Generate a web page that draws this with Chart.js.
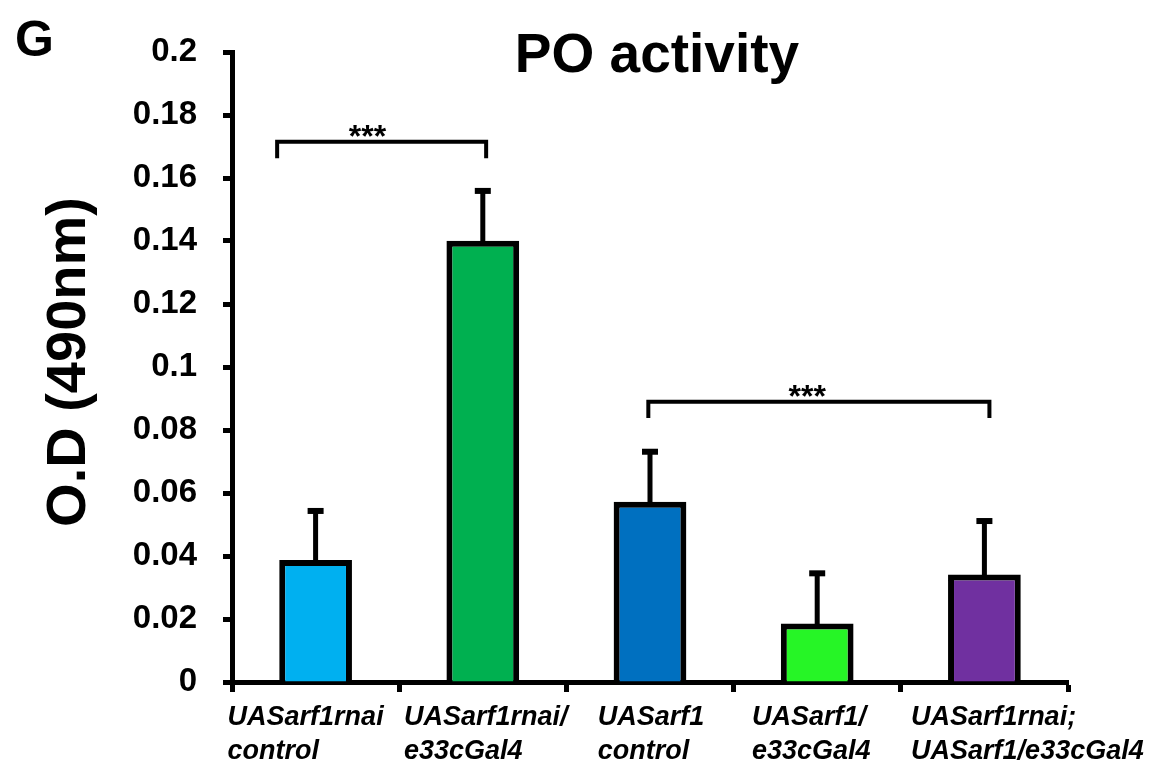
<!DOCTYPE html>
<html><head><meta charset="utf-8">
<script src="https://cdn.jsdelivr.net/npm/chart.js@4.4.1/dist/chart.umd.min.js"></script>
<style>html,body{margin:0;padding:0;background:#fff}canvas{display:block}</style>
</head><body>
<canvas id="c" width="1151" height="765"></canvas>
<script>
// ---- data ----
const categories = [
  ['UASarf1rnai', 'control'],
  ['UASarf1rnai/', 'e33cGal4'],
  ['UASarf1', 'control'],
  ['UASarf1/', 'e33cGal4'],
  ['UASarf1rnai;', 'UASarf1/e33cGal4']
];
const meanValues = [0.0387, 0.1401, 0.0572, 0.0186, 0.0341];
const errorUpper = [0.0156, 0.0158, 0.0159, 0.0159, 0.0170];
const barColors = ['#00B0F0', '#00B050', '#0070C0', '#26F526', '#7030A0'];
const yTickLabels = ['0', '0.02', '0.04', '0.06', '0.08', '0.1', '0.12', '0.14', '0.16', '0.18', '0.2'];
const bracketFrom = [-0.23, 1.99];
const bracketTo = [1.02, 4.03];
const bracketLevel = [0.1715, 0.089];
const bracketLeg = [0.1663, 0.0838];
const starsAt = [0.31, 2.94];
const starsText = ['***', '***'];
const chartTitle = 'PO activity';
const panelLetter = 'G';
const yAxisTitle = 'O.D (490nm)';

// ---- styles ----
const FONT = '"Liberation Sans", Arial, sans-serif';
const labelShift = [-10, 3, 1, -6, 43];

const overlay = {
  id: 'overlay',
  afterDatasetsDraw(chart) {
    const ctx = chart.ctx, xs = chart.scales.x, ys = chart.scales.y;
    ctx.save();
    ctx.fillStyle = '#000';
    // error bars
    meanValues.forEach((v, i) => {
      const cx = xs.getPixelForValue(i);
      const top = ys.getPixelForValue(v);
      const cap = ys.getPixelForValue(v + errorUpper[i]);
      ctx.fillRect(cx - 2.5, cap, 5, top - cap + 3);
      ctx.fillRect(cx - 8, cap - 3, 16, 6);
    });
    // significance brackets
    ctx.strokeStyle = '#000';
    ctx.lineWidth = 4;
    ctx.lineJoin = 'miter';
    ctx.lineCap = 'butt';
    bracketFrom.forEach((f, i) => {
      const x1 = xs.getPixelForValue(f), x2 = xs.getPixelForValue(bracketTo[i]);
      const yl = ys.getPixelForValue(bracketLevel[i]), yb = ys.getPixelForValue(bracketLeg[i]);
      ctx.beginPath();
      ctx.moveTo(x1, yb); ctx.lineTo(x1, yl); ctx.lineTo(x2, yl); ctx.lineTo(x2, yb);
      ctx.stroke();
      ctx.font = 'bold 32px ' + FONT;
      ctx.textAlign = 'center';
      ctx.textBaseline = 'alphabetic';
      ctx.fillText(starsText[i], xs.getPixelForValue(starsAt[i]), yl + 5);
    });
    ctx.restore();
  },
  afterDraw(chart) {
    const ctx = chart.ctx, xs = chart.scales.x, area = chart.chartArea;
    ctx.save();
    ctx.fillStyle = '#000';
    // x labels
    ctx.font = 'italic bold 27px ' + FONT;
    ctx.textAlign = 'left';
    ctx.textBaseline = 'alphabetic';
    categories.forEach((lines, i) => {
      const cx = xs.getPixelForValue(i);
      const w = Math.max(...lines.map(l => ctx.measureText(l).width));
      const sx = cx - w / 2 + labelShift[i];
      lines.forEach((l, k) => ctx.fillText(l, sx, area.bottom + 43 + k * 34));
    });
    // title
    ctx.font = 'bold 55px ' + FONT;
    ctx.textAlign = 'center';
    ctx.fillText(chartTitle, 657, 72);
    // panel letter
    ctx.font = 'bold 50px ' + FONT;
    ctx.textAlign = 'left';
    ctx.fillText(panelLetter, 15, 56);
    // y axis title
    ctx.translate(70, 362);
    ctx.rotate(-Math.PI / 2);
    ctx.font = 'bold 56px ' + FONT;
    ctx.textAlign = 'center';
    ctx.textBaseline = 'middle';
    ctx.fillText(yAxisTitle, 0, 0);
    ctx.restore();
  }
};

new Chart(document.getElementById('c'), {
  type: 'bar',
  data: {
    labels: categories,
    datasets: [{
      data: meanValues,
      backgroundColor: barColors,
      borderColor: '#000',
      borderWidth: 6,
      categoryPercentage: 1,
      barPercentage: 0.435
    }]
  },
  options: {
    responsive: false,
    animation: false,
    layout: { padding: { top: 52, right: 83, left: 0, bottom: 0 } },
    plugins: { legend: { display: false }, tooltip: { enabled: false }, title: { display: false } },
    scales: {
      x: {
        type: 'category',
        offset: true,
        grid: { display: true, offset: true, drawOnChartArea: false, drawTicks: true, tickLength: 10, tickWidth: 5, tickColor: '#000', color: '#000' },
        border: { display: true, color: '#000', width: 5 },
        ticks: { display: false },
        afterFit(s) { s.height = 83; }
      },
      y: {
        min: 0, max: 0.2,
        grid: { display: true, drawOnChartArea: false, drawTicks: true, tickLength: 9, tickWidth: 5, tickColor: '#000', color: '#000' },
        border: { display: true, color: '#000', width: 5 },
        ticks: {
          stepSize: 0.02,
          color: '#000',
          padding: 26,
          font: { family: FONT, size: 33, weight: 'bold' },
          callback: (v, i) => yTickLabels[i]
        },
        afterFit(s) { s.width = 232; }
      }
    }
  },
  plugins: [overlay]
});
</script>
</body></html>
